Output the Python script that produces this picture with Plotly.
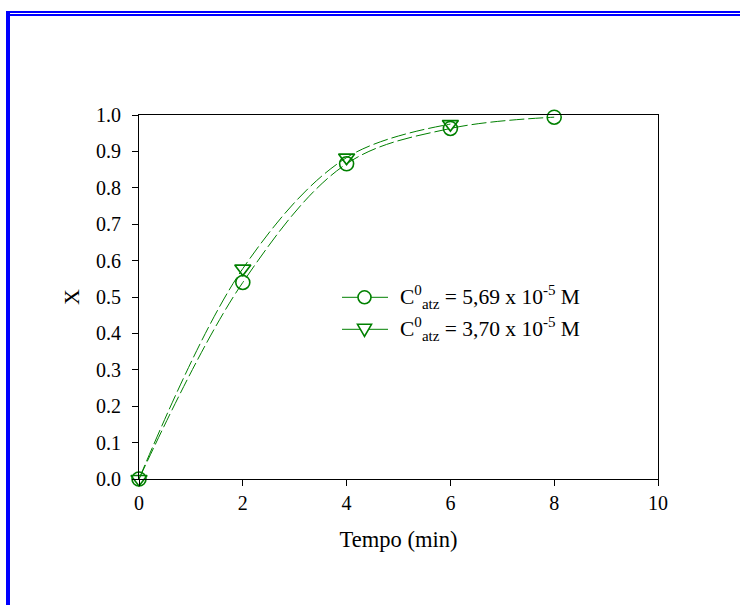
import plotly.graph_objects as go

# ---- data ----
tempo_a = [0, 2, 4, 6, 8]
x_a = [0.0, 0.540, 0.866, 0.963, 0.994]
tempo_b = [0, 2, 4, 6]
x_b = [0.0, 0.578, 0.883, 0.975]
label_a = "C<sup>0</sup><sub>atz</sub> = 5,69 x 10<sup>-5</sup> M"
label_b = "C<sup>0</sup><sub>atz</sub> = 3,70 x 10<sup>-5</sup> M"
x_ticks = [0, 2, 4, 6, 8, 10]
y_ticks = [round(0.1 * i, 1) for i in range(11)]

GREEN = "#008000"
FONT = "Liberation Serif"
W, H = 740, 605
L, R, T, B = 139, 82, 115, 126
PW, PH = W - L - R, H - T - B


def px2x(px):
    return (px - L) / PW


def py2y(py):
    return (H - B - py) / PH


fig = go.Figure()
fig.add_trace(go.Scatter(
    x=tempo_a, y=x_a, mode="lines+markers", line_shape="spline",
    line=dict(color=GREEN, width=1, dash="15px,4px"),
    marker=dict(symbol="circle-open", size=14, color=GREEN, line=dict(width=1.6, color=GREEN)),
    cliponaxis=False, showlegend=False, name=label_a))
fig.add_trace(go.Scatter(
    x=tempo_b, y=x_b, mode="lines+markers", line_shape="spline",
    line=dict(color=GREEN, width=1, dash="15px,4px"),
    marker=dict(symbol="triangle-down-open", size=14, color=GREEN, line=dict(width=1.6, color=GREEN)),
    cliponaxis=False, showlegend=False, name=label_b))

shapes = []
# blue frame
shapes.append(dict(type="line", xref="paper", yref="paper", x0=px2x(8), x1=px2x(8), y0=py2y(11), y1=py2y(606),
                   line=dict(color="#0000ff", width=4)))
shapes.append(dict(type="line", xref="paper", yref="paper", x0=px2x(6), x1=px2x(741), y0=py2y(12), y1=py2y(12),
                   line=dict(color="#0000ff", width=2)))
shapes.append(dict(type="line", xref="paper", yref="paper", x0=px2x(10), x1=px2x(741), y0=py2y(15), y1=py2y(15),
                   line=dict(color="#0000ff", width=2)))

annotations = []
for ly, lab, sym in [(297.3, label_a, "circle"), (329.3, label_b, "tri")]:
    shapes.append(dict(type="line", xref="paper", yref="paper", x0=px2x(342), x1=px2x(388), y0=py2y(ly), y1=py2y(ly),
                       line=dict(color=GREEN, width=1)))
    if sym == "circle":
        shapes.append(dict(type="circle", xref="paper", yref="paper", xsizemode="pixel", ysizemode="pixel",
                           xanchor=px2x(364.5), yanchor=py2y(ly), x0=-6.5, x1=6.5, y0=-6.5, y1=6.5,
                           fillcolor="white", line=dict(color=GREEN, width=1.6)))
    else:
        shapes.append(dict(type="path", xref="paper", yref="paper", xsizemode="pixel", ysizemode="pixel",
                           xanchor=px2x(364.5), yanchor=py2y(ly),
                           path="M-7,5 L7,5 L0,-7 Z",
                           fillcolor="white", line=dict(color=GREEN, width=1.6)))
    annotations.append(dict(text=lab, xref="paper", yref="paper", x=px2x(398), y=py2y(ly),
                            xanchor="left", yanchor="middle", showarrow=False,
                            font=dict(family=FONT, size=21.5, color="black")))

axis_common = dict(showline=True, linecolor="black", linewidth=1, mirror=True, ticks="outside",
                   ticklen=6, tickcolor="black", tickwidth=1, showgrid=False, zeroline=False,
                   tickfont=dict(family=FONT, size=20, color="black"))

fig.update_layout(
    width=W, height=H, margin=dict(l=L, r=R, t=T, b=B),
    paper_bgcolor="white", plot_bgcolor="white",
    font=dict(family=FONT, size=20, color="black"),
    xaxis=dict(range=[0, 10], tickvals=x_ticks, ticktext=[str(v) for v in x_ticks],
               title=dict(text="Tempo (min)", standoff=18, font=dict(family=FONT, size=22.5)), **axis_common),
    yaxis=dict(range=[0, 1], tickvals=y_ticks, ticktext=[f"{v:.1f}" for v in y_ticks],
               ticklabelstandoff=7,
               title=dict(text="X", standoff=10, font=dict(family=FONT, size=22)), **axis_common),
    shapes=shapes, annotations=annotations, showlegend=False,
)
fig.write_html("out.html", config={"displayModeBar": False},
               post_script="document.body.style.margin='0px';")
